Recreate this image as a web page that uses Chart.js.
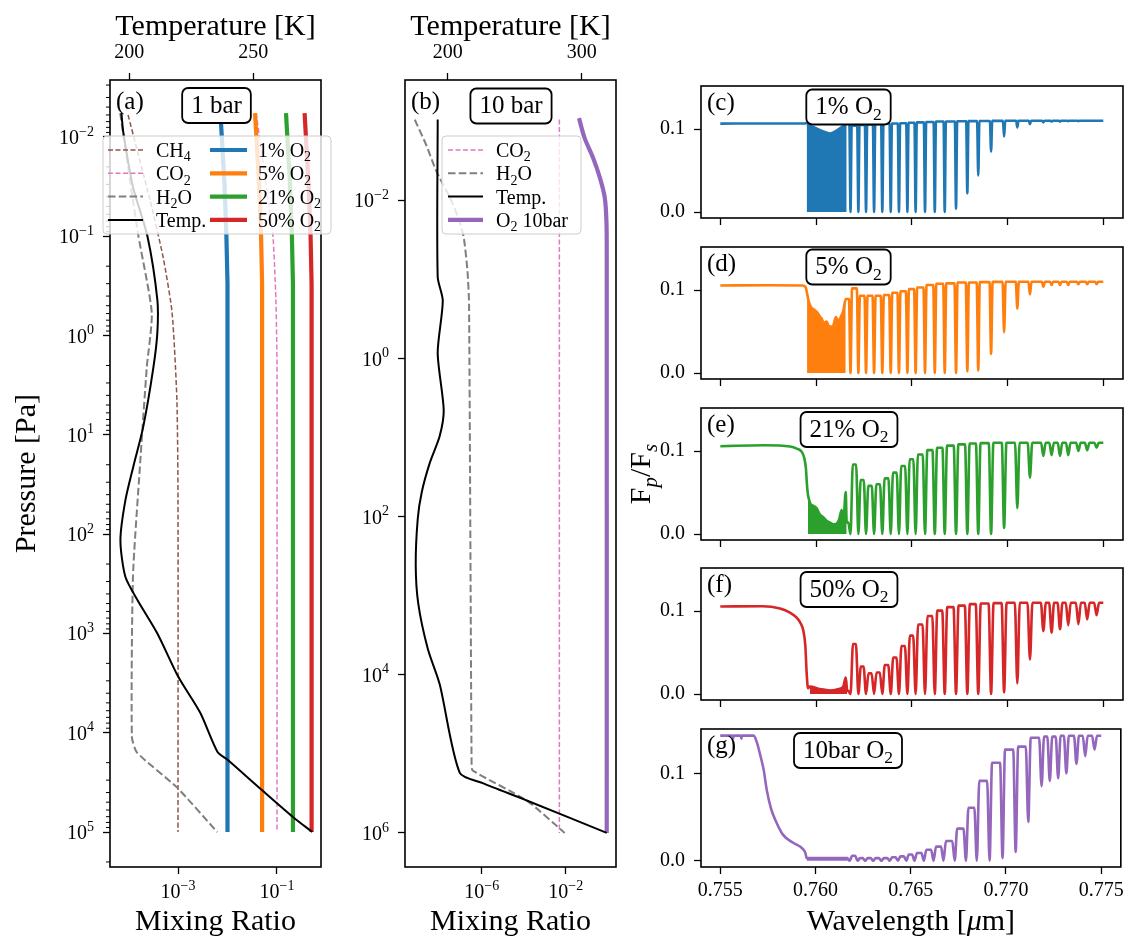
<!DOCTYPE html>
<html>
<head>
<meta charset="utf-8">
<title>O2 A-band: atmosphere profiles and reflection spectra</title>
<script src="https://cdn.jsdelivr.net/npm/chart.js@4.4.1/dist/chart.umd.min.js"></script>
<style>
  html, body { margin: 0; padding: 0; background: #fff; }
  body { position: relative; width: 1127px; height: 940px; overflow: hidden; }
  canvas { position: absolute; }
</style>
</head>
<body>
<canvas id="chartA" width="345" height="940" style="left:0;top:0"></canvas>
<canvas id="chartB" width="290" height="940" style="left:345px;top:0"></canvas>
<canvas id="chartC" width="509" height="174" style="left:620px;top:65px"></canvas>
<canvas id="chartD" width="509" height="174" style="left:620px;top:226px"></canvas>
<canvas id="chartE" width="509" height="174" style="left:620px;top:387px"></canvas>
<canvas id="chartF" width="509" height="174" style="left:620px;top:547px"></canvas>
<canvas id="chartG" width="509" height="232" style="left:620px;top:708px"></canvas>
<script>
// ── PANEL (a): 1 bar atmosphere ──
const aTempP = [5.75e-3, 9.1e-3, 3.2e-2, 0.1, 0.437, 0.933, 2.09, 8.3, 20.9, 45.7, 115, 269, 457, 1000, 2750, 6300, 15500, 18600, 38000, 70800, 1e5];
const aTempK = [196.8, 197.6, 201.5, 207.3, 211.3, 211.3, 209.7, 205.6, 201.6, 198.4, 196.4, 198.4, 203.2, 211.3, 219.8, 228.6, 235.5, 239.5, 253.6, 266.1, 273.8];
const aCh4P  = [6.0e-3, 4.27e-2, 0.162, 0.589, 4.47, 45.7, 1e5];
const aCh4X  = [9.8e-5, 2.7e-4, 5.0e-4, 7.6e-4, 9.5e-4, 1.0e-3, 1.0e-3];
const aCo2P  = [5.75e-3, 4.27e-2, 0.1, 0.437, 2.0, 1e5];
const aCo2X  = [0.038, 0.066, 0.083, 0.095, 0.1, 0.1];
const aH2oP  = [5.75e-3, 9.3e-2, 0.589, 2.09, 20.9, 269, 11000, 15800, 35500, 1e5];
const aH2oX  = [6.8e-5, 1.55e-4, 2.95e-4, 2.34e-4, 1.7e-4, 1.23e-4, 1.17e-4, 1.48e-4, 9.5e-4, 6.2e-3];
const aO2P   = [5.75e-3, 3e-2, 0.1, 0.3, 1e5];
const aO2_1  = [0.0072, 0.0087, 0.0095, 0.01, 0.01];
const aO2_5  = [0.036, 0.0435, 0.0477, 0.05, 0.05];
const aO2_21 = [0.152, 0.183, 0.2, 0.21, 0.21];
const aO2_50 = [0.361, 0.435, 0.477, 0.5, 0.5];
const aPTicks = [1e-2, 1e-1, 1, 10, 100, 1e3, 1e4, 1e5];
const aXTicks = [1e-3, 1e-1];
const aTTicks = [200, 250];

// ── PANEL (b): 10 bar atmosphere ──
const bTempP = [9.5e-4, 9.3e-2, 0.186, 0.85, 4.47, 9.55, 20.9, 49, 107, 407, 1260, 4680, 13200, 174000, 234000, 389000, 1e6];
const bTempK = [192.5, 192.5, 196.3, 192.5, 197.0, 194.0, 186.6, 180.6, 177.6, 176.1, 178.0, 185.1, 194.0, 209.0, 226.1, 259.0, 318.7];
const bH2oP  = [9.5e-4, 2.0e-3, 4.27e-3, 9.1e-3, 1.62e-2, 2.88e-2, 7.8e-2, 0.204, 1.32e5, 1.62e5, 3.89e5, 1e6];
const bH2oX  = [6.5e-10, 2.3e-9, 6.9e-9, 3.0e-8, 7.4e-8, 1.38e-7, 2.1e-7, 2.5e-7, 3.3e-7, 3.7e-7, 1.38e-4, 8.9e-3];
const bCo2P  = [9.5e-4, 1e6];
const bCo2X  = [5e-3, 5e-3];
const bO2P   = [9.1e-4, 1.62e-3, 2.88e-3, 5.1e-3, 9.1e-3, 1.82e-2, 4.8e-2, 1e6];
const bO2X   = [0.043, 0.079, 0.2, 0.42, 0.72, 0.87, 0.9, 0.9];
const bPTicks = [1e-2, 1, 1e2, 1e4, 1e6];
const bXTicks = [1e-6, 1e-2];
const bTTicks = [200, 300];

// ── SPECTRA (c)-(g) ──
const wlTicks = [0.755, 0.760, 0.765, 0.770, 0.775];
const fluxTicks = [0, 0.1];
const wlEnd = 0.775;
// P-branch line centres [um]
const pLam = [0.76180, 0.76221, 0.76261, 0.76303, 0.76346, 0.76390, 0.76433, 0.76477, 0.76520, 0.76569,
              0.76620, 0.76672, 0.76731, 0.76790, 0.76847, 0.76914, 0.76982, 0.77051, 0.77117, 0.77187,
              0.77230, 0.77274, 0.77317, 0.77370, 0.77416, 0.77465];

// (c) 1% O2
const cContX = [0.755, 0.7575, 0.75940];
const cContY = [0.1065, 0.1067, 0.1067];
const cBandX = [0.75951, 0.75965, 0.75990, 0.76038, 0.76073, 0.76107, 0.76142, 0.76160];
const cBandY = [0.107, 0.104, 0.102, 0.097, 0.0946, 0.098, 0.1036, 0.1065];
const cDip  = [0, 0, 0, 0, 0, 0, 0, 0, 0, 0, 0, 0, 0.004, 0.0225, 0.044, 0.073, 0.091, 0.102, 0.106, 0.108, 0.109, 0.109, 0.1095, 0.1095, 0.110, 0.110];
const cPeak = [0.104, 0.105, 0.1055, 0.106, 0.1063, 0.1066, 0.107, 0.1075, 0.108, 0.1085, 0.109, 0.109, 0.1093, 0.1095, 0.1097, 0.1098, 0.1099, 0.110, 0.110, 0.110, 0.110, 0.110, 0.110, 0.110, 0.110, 0.110];

// (d) 5% O2
const dContX = [0.755, 0.7575, 0.7593, 0.75945];
const dContY = [0.1054, 0.1058, 0.1054, 0.1036];
const dBandX = [0.75953, 0.75960, 0.75972, 0.75989, 0.76007, 0.76020, 0.76029, 0.76041, 0.76055, 0.76067, 0.76087, 0.76104, 0.76116, 0.76130, 0.76142, 0.76155];
const dBandY = [0.096, 0.088, 0.080, 0.0765, 0.0728, 0.068, 0.0656, 0.0601, 0.062, 0.0565, 0.0558, 0.0674, 0.062, 0.068, 0.0746, 0.0891];
const dDip  = [0, 0, 0, 0, 0, 0, 0, 0, 0, 0, 0, 0, 0, 0.002, 0.003, 0.023, 0.049, 0.0775, 0.0946, 0.104, 0.106, 0.106, 0.106, 0.107, 0.107, 0.107];
const dPeak = [0.102, 0.093, 0.093, 0.093, 0.094, 0.0967, 0.0985, 0.101, 0.103, 0.106, 0.1076, 0.108, 0.109, 0.109, 0.1095, 0.1098, 0.110, 0.110, 0.110, 0.110, 0.110, 0.110, 0.110, 0.110, 0.110, 0.110];

// (e) 21% O2
const eContX = [0.755, 0.7573, 0.75864, 0.75899, 0.75925, 0.75938, 0.75947, 0.75953];
const eContY = [0.1058, 0.1069, 0.1054, 0.1029, 0.099, 0.092, 0.079, 0.058];
const eBandX = [0.75958, 0.75965, 0.75972, 0.75986, 0.76003, 0.76020, 0.76038, 0.76055, 0.76073, 0.76090, 0.76108, 0.76121, 0.76134, 0.76142, 0.76155, 0.76160];
const eBandY = [0.047, 0.040, 0.036, 0.034, 0.031, 0.0235, 0.020, 0.016, 0.0137, 0.0116, 0.0126, 0.018, 0.029, 0.014, 0.0505, 0.014];
const eDip  = [0, 0, 0, 0, 0, 0, 0, 0, 0, 0, 0, 0, 0, 0, 0, 0, 0.0072, 0.031, 0.068, 0.094, 0.095, 0.094, 0.095, 0.100, 0.101, 0.104];
const ePeak = [0.0838, 0.065, 0.058, 0.060, 0.067, 0.074, 0.082, 0.090, 0.0957, 0.101, 0.104, 0.1065, 0.108, 0.109, 0.1095, 0.110, 0.110, 0.110, 0.110, 0.110, 0.110, 0.110, 0.110, 0.110, 0.110, 0.110];

// (f) 50% O2
const fContX = [0.755, 0.7572, 0.75812, 0.75864, 0.75899, 0.7592, 0.75934, 0.75944, 0.75951, 0.75958];
const fContY = [0.1054, 0.1058, 0.103, 0.098, 0.092, 0.085, 0.076, 0.058, 0.025, 0.007];
const fBandX = [0.75968, 0.7602, 0.76073, 0.76125, 0.76142, 0.76155, 0.76163];
const fBandY = [0.009, 0.0061, 0.0043, 0.0065, 0.009, 0.0199, 0.004];
const fDip  = [0, 0, 0, 0, 0, 0, 0, 0, 0, 0, 0, 0, 0, 0, 0, 0, 0.002, 0.0126, 0.0415, 0.0758, 0.074, 0.078, 0.083, 0.084, 0.090, 0.095];
const fPeak = [0.0603, 0.0332, 0.0249, 0.026, 0.035, 0.044, 0.0578, 0.0704, 0.0838, 0.0939, 0.1004, 0.1047, 0.1065, 0.1083, 0.109, 0.1095, 0.110, 0.110, 0.110, 0.110, 0.110, 0.110, 0.110, 0.110, 0.110, 0.110];

// (g) 10 bar O2
const gContX = [0.755, 0.75564, 0.75568, 0.75571, 0.75608, 0.75611, 0.75615, 0.75676, 0.75693, 0.75711, 0.75728, 0.75745, 0.75768, 0.75794, 0.75829, 0.75881, 0.75933, 0.75947];
const gContY = [0.1442, 0.1442, 0.1406, 0.1442, 0.1442, 0.1406, 0.1442, 0.1442, 0.136, 0.121, 0.105, 0.0808, 0.0591, 0.0446, 0.0301, 0.0210, 0.0138, 0.0091];
const gBandX = [0.75954, 0.7600, 0.7605, 0.7610, 0.7615, 0.7617];
const gBandY = [0.003, 0.003, 0.003, 0.003, 0.003, 0.003];
const gDip  = [0, 0, 0, 0, 0, 0, 0, 0, 0, 0, 0, 0, 0, 0, 0, 0, 0.003, 0.010, 0.0446, 0.086, 0.092, 0.095, 0.1007, 0.1116, 0.1206, 0.128];
const gPeak = [0.0058, 0.003, 0.003, 0.003, 0.003, 0.004, 0.005, 0.0072, 0.009, 0.0127, 0.0163, 0.0228, 0.037, 0.061, 0.092, 0.113, 0.128, 0.1315, 0.1417, 0.143, 0.143, 0.144, 0.144, 0.144, 0.144, 0.144];

// ── STYLES ──
const FONT = '"Liberation Serif", "Times New Roman", serif';
const TICK_SIZE = 20;
const sty = {
    ch4:  { color: '#8c564b', width: 1.5, dash: [5, 2.5] },
    co2:  { color: '#e377c2', width: 1.5, dash: [5, 2.5] },
    h2o:  { color: '#7f7f7f', width: 2,   dash: [7.5, 3.3] },
    temp: { color: '#000000', width: 2,   dash: [] },
    o2_1:  { color: '#1f77b4', width: 4.2, dash: [] },
    o2_5:  { color: '#ff7f0e', width: 4.2, dash: [] },
    o2_21: { color: '#2ca02c', width: 4.2, dash: [] },
    o2_50: { color: '#d62728', width: 4.2, dash: [] },
    o2_10: { color: '#9467bd', width: 4.2, dash: [] }
};

// ── TEXT HELPERS ──
function runFont(kind, size) {
    const small = kind === 'sub' || kind === 'sup' || kind === 'subit';
    const it = kind === 'it' || kind === 'subit' ? 'italic ' : '';
    return it + (small ? size * 0.7 : size) + 'px ' + FONT;
}
function richWidth(ctx, parts, size) {
    let w = 0;
    parts.forEach(([t, k]) => { ctx.font = runFont(k, size); w += ctx.measureText(t).width; });
    return w;
}
function drawRich(ctx, parts, x, y, size, align) {
    const w = richWidth(ctx, parts, size);
    let cx = align === 'center' ? x - w / 2 : align === 'right' ? x - w : x;
    ctx.textAlign = 'left';
    ctx.textBaseline = 'alphabetic';
    parts.forEach(([t, k]) => {
        ctx.font = runFont(k, size);
        const dy = (k === 'sub' || k === 'subit') ? size * 0.22 : k === 'sup' ? -size * 0.42 : 0;
        ctx.fillText(t, cx, y + dy);
        cx += ctx.measureText(t).width;
    });
}
function expText(v) {
    const n = Math.round(Math.log10(v));
    return n < 0 ? '\u2212' + (-n) : String(n);
}

// ── DECORATION PLUGIN: frame, minor ticks, 10^n labels, legend, tags, titles ──
const decor = {
    id: 'decor',
    afterDraw(chart, args, o) {
        const ctx = chart.ctx, a = chart.chartArea;
        ctx.save();
        ctx.fillStyle = '#000';
        ctx.strokeStyle = '#000';

        if (o.minor) {
            const s = chart.scales[o.minor.axis];
            ctx.lineWidth = 1;
            o.minor.values.forEach(v => {
                const p = s.getPixelForValue(v);
                if (p < a.top || p > a.bottom) return;
                ctx.beginPath(); ctx.moveTo(a.left - 4, p); ctx.lineTo(a.left, p); ctx.stroke();
            });
        }

        (o.exp || []).forEach(e => {
            const s = chart.scales[e.axis];
            e.values.forEach(v => {
                const parts = [['10', ''], [expText(v), 'sup']];
                const p = s.getPixelForValue(v);
                if (e.axis === 'y') drawRich(ctx, parts, a.left - 16, p + 7, TICK_SIZE, 'right');
                else drawRich(ctx, parts, p, a.bottom + 31, TICK_SIZE, 'center');
            });
        });

        ctx.lineWidth = 1.6;
        ctx.strokeRect(a.left, a.top, a.right - a.left, a.bottom - a.top);

        if (o.legend) {
            const L = o.legend, x0 = a.left + L.x, y0 = a.top + L.y;
            ctx.beginPath(); ctx.roundRect(x0, y0, L.w, L.h, 4);
            ctx.fillStyle = 'rgba(255,255,255,0.8)'; ctx.fill();
            ctx.strokeStyle = '#cccccc'; ctx.lineWidth = 1; ctx.stroke();
            L.cols.forEach(col => col.items.forEach((it, i) => {
                const y = y0 + 14 + i * 23.3;
                ctx.strokeStyle = it.s.color; ctx.lineWidth = it.s.width; ctx.setLineDash(it.s.dash);
                ctx.beginPath(); ctx.moveTo(x0 + col.h0, y); ctx.lineTo(x0 + col.h1, y); ctx.stroke();
                ctx.setLineDash([]);
                ctx.fillStyle = '#000';
                drawRich(ctx, it.parts, x0 + col.t, y + 7, 20, 'left');
            }));
        }

        if (o.tag) {
            const cx = a.left + o.tagAt[0], cy = a.top + o.tagAt[1];
            const w = richWidth(ctx, o.tag, 25) + 18, h = 35;
            ctx.beginPath(); ctx.roundRect(cx - w / 2, cy - h / 2, w, h, 6);
            ctx.fillStyle = '#fff'; ctx.fill();
            ctx.strokeStyle = '#000'; ctx.lineWidth = 1.8; ctx.stroke();
            ctx.fillStyle = '#000';
            drawRich(ctx, o.tag, cx, cy + 7, 25, 'center');
        }

        if (o.letter) drawRich(ctx, [[o.letter, '']], a.left + 6, a.top + o.letterY, 25, 'left');

        (o.titles || []).forEach(t => {
            const [x, y] = t.at(a);
            ctx.fillStyle = '#000';
            if (t.rot) {
                ctx.save(); ctx.translate(x, y); ctx.rotate(-Math.PI / 2);
                drawRich(ctx, t.parts, 0, 0, 30, 'center');
                ctx.restore();
            } else {
                drawRich(ctx, t.parts, x, y, 30, 'center');
            }
        });
        ctx.restore();
    }
};

function tickGrid() {
    return { display: true, drawOnChartArea: false, drawTicks: true, tickLength: 7, tickWidth: 1.3, tickColor: '#000' };
}
const pts = (xs, ys) => xs.map((x, i) => ({ x, y: ys[i] }));
function profileSet(xs, ys, s, axis, order, tension) {
    return { data: pts(xs, ys), xAxisID: axis, borderColor: s.color, borderWidth: s.width, borderDash: s.dash,
             pointRadius: 0, fill: false, tension: tension || 0, order };
}

// minor log ticks for the 1 bar pressure axis
const aMinor = [];
for (let n = -3; n <= 5; n++) for (let k = 2; k <= 9; k++) aMinor.push(k * Math.pow(10, n));

const titleTemp  = { parts: [['Temperature [K]', '']], at: a => [(a.left + a.right) / 2, a.top - 45] };
const titleMix   = { parts: [['Mixing Ratio', '']], at: a => [(a.left + a.right) / 2, a.bottom + 63] };
const titlePress = { parts: [['Pressure [Pa]', '']], at: a => [a.left - 75, (a.top + a.bottom) / 2], rot: true };

function profileChart(id, c) {
    return new Chart(document.getElementById(id), {
        type: 'line',
        data: { datasets: c.datasets },
        options: {
            responsive: false, animation: false, devicePixelRatio: 1, events: [],
            layout: { padding: { right: c.padRight } },
            scales: {
                x: { type: 'logarithmic', position: 'bottom', min: c.xMin, max: c.xMax,
                     afterFit: s => { s.height = 73; },
                     afterBuildTicks: s => { s.ticks = c.xTicks.map(v => ({ value: v })); },
                     ticks: { display: false }, grid: tickGrid(), border: { display: false } },
                xT: { type: 'linear', position: 'top', min: c.tMin, max: c.tMax,
                      afterFit: s => { s.height = 80; },
                      afterBuildTicks: s => { s.ticks = c.tTicks.map(v => ({ value: v })); },
                      ticks: { font: { size: TICK_SIZE, family: FONT }, padding: 8, color: '#000', maxRotation: 0, callback: v => String(v) },
                      grid: tickGrid(), border: { display: false } },
                y: { type: 'logarithmic', position: 'left', reverse: true, min: c.pMin, max: c.pMax,
                     afterFit: s => { s.width = c.yWidth; },
                     afterBuildTicks: s => { s.ticks = c.pTicks.map(v => ({ value: v })); },
                     ticks: { display: false }, grid: tickGrid(), border: { display: false } }
            },
            plugins: { legend: { display: false }, tooltip: { enabled: false }, decor: c.decor }
        },
        plugins: [decor]
    });
}

// ── (a) 1 bar ──
profileChart('chartA', {
    padRight: 24, yWidth: 110,
    xMin: Math.pow(10, -4.374), xMax: Math.pow(10, -0.111), xTicks: aXTicks,
    tMin: 192.2, tMax: 277.3, tTicks: aTTicks,
    pMin: Math.pow(10, -2.574), pMax: Math.pow(10, 5.352), pTicks: aPTicks,
    datasets: [
        profileSet(aTempK, aTempP, sty.temp, 'xT', 0, 0.25),
        profileSet(aO2_1, aO2P, sty.o2_1, 'x', 1),
        profileSet(aO2_5, aO2P, sty.o2_5, 'x', 1),
        profileSet(aO2_21, aO2P, sty.o2_21, 'x', 1),
        profileSet(aO2_50, aO2P, sty.o2_50, 'x', 1),
        profileSet(aH2oX, aH2oP, sty.h2o, 'x', 2, 0.2),
        profileSet(aCo2X, aCo2P, sty.co2, 'x', 2, 0.2),
        profileSet(aCh4X, aCh4P, sty.ch4, 'x', 2, 0.2)
    ],
    decor: {
        letter: '(a)', letterY: 28.5,
        tag: [['1 bar', '']], tagAt: [106.5, 25.5],
        minor: { axis: 'y', values: aMinor },
        exp: [{ axis: 'y', values: aPTicks }, { axis: 'x', values: aXTicks }],
        legend: { x: -7, y: 56, w: 228, h: 98, cols: [
            { h0: 5, h1: 40, t: 53, items: [
                { parts: [['CH', ''], ['4', 'sub']], s: sty.ch4 },
                { parts: [['CO', ''], ['2', 'sub']], s: sty.co2 },
                { parts: [['H', ''], ['2', 'sub'], ['O', '']], s: sty.h2o },
                { parts: [['Temp.', '']], s: sty.temp } ] },
            { h0: 107, h1: 144, t: 155, items: [
                { parts: [['1% O', ''], ['2', 'sub']], s: sty.o2_1 },
                { parts: [['5% O', ''], ['2', 'sub']], s: sty.o2_5 },
                { parts: [['21% O', ''], ['2', 'sub']], s: sty.o2_21 },
                { parts: [['50% O', ''], ['2', 'sub']], s: sty.o2_50 } ] }
        ] },
        titles: [titleTemp, titleMix, titlePress]
    }
});

// ── (b) 10 bar ──
profileChart('chartB', {
    padRight: 19, yWidth: 60,
    xMin: Math.pow(10, -9.652), xMax: Math.pow(10, 0.395), xTicks: bXTicks,
    tMin: 168.1, tMax: 325.6, tTicks: bTTicks,
    pMin: Math.pow(10, -3.458), pMax: Math.pow(10, 6.431), pTicks: bPTicks,
    datasets: [
        profileSet(bTempK, bTempP, sty.temp, 'xT', 0, 0.25),
        profileSet(bO2X, bO2P, sty.o2_10, 'x', 1, 0.3),
        profileSet(bH2oX, bH2oP, sty.h2o, 'x', 2, 0.2),
        profileSet(bCo2X, bCo2P, sty.co2, 'x', 2)
    ],
    decor: {
        letter: '(b)', letterY: 28.5,
        tag: [['10 bar', '']], tagAt: [106, 26],
        exp: [{ axis: 'y', values: bPTicks }, { axis: 'x', values: bXTicks }],
        legend: { x: 37, y: 56, w: 139, h: 98, cols: [
            { h0: 6, h1: 41, t: 54, items: [
                { parts: [['CO', ''], ['2', 'sub']], s: sty.co2 },
                { parts: [['H', ''], ['2', 'sub'], ['O', '']], s: sty.h2o },
                { parts: [['Temp.', '']], s: sty.temp },
                { parts: [['O', ''], ['2', 'sub'], [' 10bar', '']], s: sty.o2_10 } ] }
        ] },
        titles: [titleTemp, titleMix]
    }
});

// ── SPECTRA ──
function spectrum(contX, contY, bandX, bandY, dip, peak, hw) {
    const out = pts(contX, contY);
    bandX.forEach((x, i) => out.push({ x, y: bandY[i] }));
    let level = bandY[bandY.length - 1];
    pLam.forEach((lam, i) => {
        out.push({ x: lam - hw, y: level });
        out.push({ x: lam, y: dip[i] });
        out.push({ x: lam + hw, y: peak[i] });
        level = peak[i];
    });
    out.push({ x: wlEnd, y: level });
    return out;
}

function spectrumChart(id, c) {
    return new Chart(document.getElementById(id), {
        type: 'line',
        data: { datasets: [
            { data: c.points, borderColor: c.color, borderWidth: 2.6, pointRadius: 0, fill: false,
              cubicInterpolationMode: 'monotone', order: 0 },
            { data: c.band, borderColor: c.color, backgroundColor: c.color, borderWidth: 1, pointRadius: 0,
              fill: 'origin', order: 1 }
        ] },
        options: {
            responsive: false, animation: false, devicePixelRatio: 1, events: [],
            layout: { padding: { top: 14, right: 6 } },
            scales: {
                x: { type: 'linear', min: 0.753992, max: 0.776029,
                     afterFit: s => { s.height = c.bottom; },
                     afterBuildTicks: s => { s.ticks = wlTicks.map(v => ({ value: v })); },
                     ticks: { display: c.labels, font: { size: TICK_SIZE, family: FONT }, padding: 5, color: '#000',
                              maxRotation: 0, autoSkip: false, callback: v => v.toFixed(3) },
                     grid: tickGrid(), border: { display: false } },
                y: { type: 'linear', min: -0.0072, max: 0.1518,
                     afterFit: s => { s.width = 81; },
                     afterBuildTicks: s => { s.ticks = fluxTicks.map(v => ({ value: v })); },
                     ticks: { font: { size: TICK_SIZE, family: FONT }, padding: 9, color: '#000', callback: v => v.toFixed(1) },
                     grid: tickGrid(), border: { display: false } }
            },
            plugins: { legend: { display: false }, tooltip: { enabled: false }, decor: c.decor }
        },
        plugins: [decor]
    });
}

spectrumChart('chartC', {
    color: '#1f77b4', bottom: 14, labels: false,
    points: spectrum(cContX, cContY, cBandX, cBandY, cDip, cPeak, 0.00006), band: pts(cBandX, cBandY),
    decor: { letter: '(c)', letterY: 23.5, tag: [['1% O', ''], ['2', 'sub']], tagAt: [147.5, 21] }
});
spectrumChart('chartD', {
    color: '#ff7f0e', bottom: 14, labels: false,
    points: spectrum(dContX, dContY, dBandX, dBandY, dDip, dPeak, 0.00008), band: pts(dBandX, dBandY),
    decor: { letter: '(d)', letterY: 23.5, tag: [['5% O', ''], ['2', 'sub']], tagAt: [147.5, 20] }
});
spectrumChart('chartE', {
    color: '#2ca02c', bottom: 14, labels: false,
    points: spectrum(eContX, eContY, eBandX, eBandY, eDip, ePeak, 0.00012), band: pts(eBandX, eBandY),
    decor: { letter: '(e)', letterY: 23.5, tag: [['21% O', ''], ['2', 'sub']], tagAt: [148, 21.5],
             titles: [{ parts: [['F', ''], ['p', 'subit'], ['/F', ''], ['s', 'subit']],
                        at: a => [a.left - 51, (a.top + a.bottom) / 2], rot: true }] }
});
spectrumChart('chartF', {
    color: '#d62728', bottom: 14, labels: false,
    points: spectrum(fContX, fContY, fBandX, fBandY, fDip, fPeak, 0.00013), band: pts(fBandX, fBandY),
    decor: { letter: '(f)', letterY: 23.5, tag: [['50% O', ''], ['2', 'sub']], tagAt: [148, 21.5] }
});
spectrumChart('chartG', {
    color: '#9467bd', bottom: 73, labels: true,
    points: spectrum(gContX, gContY, gBandX, gBandY, gDip, gPeak, 0.00013), band: pts(gBandX, gBandY),
    decor: { letter: '(g)', letterY: 23.5, tag: [['10bar O', ''], ['2', 'sub']], tagAt: [147, 21.5],
             titles: [{ parts: [['Wavelength [', ''], ['\u03bc', 'it'], ['m]', '']],
                        at: a => [(a.left + a.right) / 2, a.bottom + 63] }] }
});
</script>
</body>
</html>
